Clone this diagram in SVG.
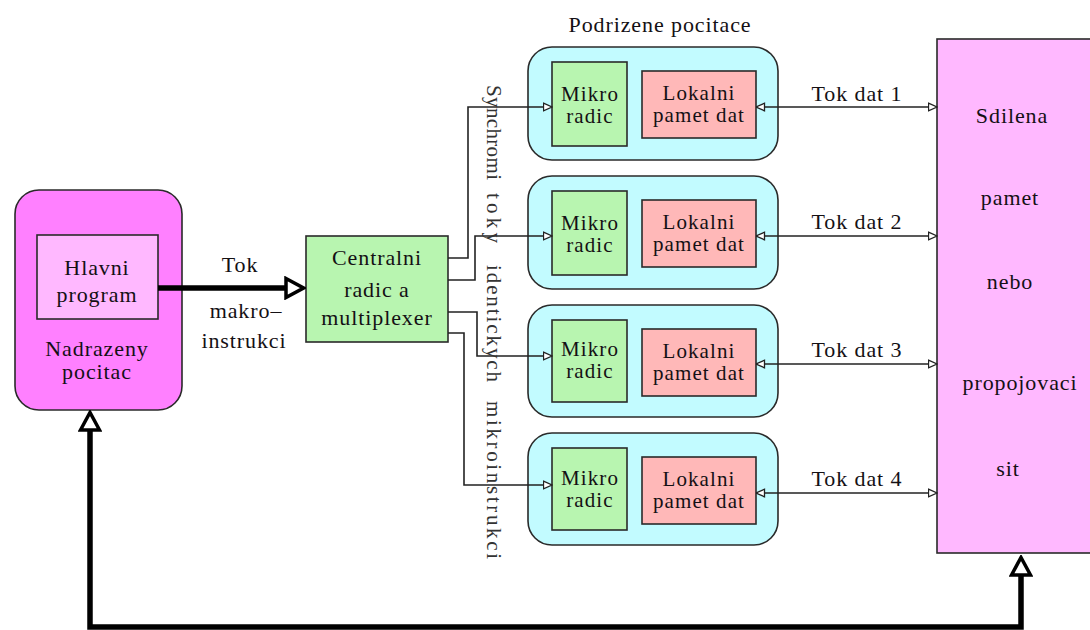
<svg xmlns="http://www.w3.org/2000/svg" width="1090" height="630" viewBox="0 0 1090 630">
  <style>
    text { font-family: "Liberation Serif", "Times New Roman", serif; font-size: 22px; letter-spacing: 0.9px; fill: #141014; text-anchor: middle; }
    .sm { font-size: 21px; letter-spacing: 1.1px; }
    .vt { font-size: 21px; letter-spacing: 0; text-anchor: start; fill: #333; }
    .box { stroke: #2a2a2a; stroke-width: 1.6; }
    .host { fill: #ff80ff; }
    .prog { fill: #ffb8ff; }
    .ctrl { fill: #b8f5b0; }
    .node { fill: #c2fbff; }
    .mem { fill: #ffb8b8; }
    .shared { fill: #ffb8ff; }
    .thin { fill: none; stroke: #222; stroke-width: 1.6; }
    .thick { fill: none; stroke: #000; stroke-width: 5.5; }
  </style>
  <defs>
    <!-- small open arrowhead for control and data lines -->
    <marker id="tip" viewBox="0 0 10 10" refX="9.5" refY="5" markerWidth="10" markerHeight="10" markerUnits="userSpaceOnUse" orient="auto-start-reverse">
      <path d="M1,1.2 L9.5,5 L1,8.8 z" fill="#fff" stroke="#222" stroke-width="1.3"/>
    </marker>
    <!-- large open arrowhead for the thick flows; reference point at its base -->
    <marker id="big" viewBox="0 0 22 24" refX="2" refY="12" markerWidth="22" markerHeight="24" markerUnits="userSpaceOnUse" orient="auto-start-reverse">
      <path d="M2,2.5 L19.5,12 L2,21.5 z" fill="#fff" stroke="#000" stroke-width="3.5" stroke-linejoin="miter"/>
    </marker>
  </defs>

  <rect width="1090" height="630" fill="#fff"/>

  <!-- master computer -->
  <g id="host">
    <rect class="box host" x="15" y="190" width="167" height="220" rx="24"/>
    <rect class="box prog" x="37" y="235" width="121" height="84"/>
    <text x="97" y="275">Hlavni</text>
    <text x="97" y="302">program</text>
    <text x="97" y="356">Nadrazeny</text>
    <text x="97" y="379">pocitac</text>
  </g>

  <!-- central controller -->
  <g id="controller">
    <rect class="box ctrl" x="306" y="236" width="142" height="106"/>
    <text x="377" y="265">Centralni</text>
    <text x="377" y="297">radic a</text>
    <text x="377" y="325">multiplexer</text>
  </g>

  <text x="660" y="32">Podrizene pocitace</text>

  <!-- slave computers -->
  <g id="slave1">
    <rect class="box node" x="528" y="47" width="250" height="113" rx="24"/>
    <rect class="box ctrl" x="552" y="62" width="75" height="84"/>
    <text class="sm" x="590" y="101">Mikro</text>
    <text class="sm" x="590" y="123">radic</text>
    <rect class="box mem" x="642" y="71" width="114" height="67"/>
    <text class="sm" x="699" y="100">Lokalni</text>
    <text class="sm" x="699" y="122">pamet dat</text>
  </g>
  <g id="slave2">
    <rect class="box node" x="528" y="176" width="250" height="113" rx="24"/>
    <rect class="box ctrl" x="552" y="191" width="75" height="84"/>
    <text class="sm" x="590" y="230">Mikro</text>
    <text class="sm" x="590" y="252">radic</text>
    <rect class="box mem" x="642" y="200" width="114" height="67"/>
    <text class="sm" x="699" y="229">Lokalni</text>
    <text class="sm" x="699" y="251">pamet dat</text>
  </g>
  <g id="slave3">
    <rect class="box node" x="528" y="305" width="250" height="112" rx="24"/>
    <rect class="box ctrl" x="552" y="320" width="75" height="82"/>
    <text class="sm" x="590" y="356">Mikro</text>
    <text class="sm" x="590" y="378">radic</text>
    <rect class="box mem" x="642" y="329" width="114" height="67"/>
    <text class="sm" x="699" y="358">Lokalni</text>
    <text class="sm" x="699" y="380">pamet dat</text>
  </g>
  <g id="slave4">
    <rect class="box node" x="528" y="433" width="250" height="112" rx="24"/>
    <rect class="box ctrl" x="552" y="448" width="75" height="82"/>
    <text class="sm" x="590" y="485">Mikro</text>
    <text class="sm" x="590" y="507">radic</text>
    <rect class="box mem" x="642" y="457" width="114" height="67"/>
    <text class="sm" x="699" y="486">Lokalni</text>
    <text class="sm" x="699" y="508">pamet dat</text>
  </g>

  <!-- shared memory / interconnect -->
  <g id="shared">
    <rect class="box shared" x="937" y="39" width="160" height="514"/>
    <text x="1012" y="123">Sdilena</text>
    <text x="1010" y="205">pamet</text>
    <text x="1010" y="289">nebo</text>
    <text x="1020" y="390">propojovaci</text>
    <text x="1008" y="476">sit</text>
  </g>

  <!-- connectors -->
  <g id="connectors">
    <path class="thick" d="M158,288 H286" marker-end="url(#big)"/>
    <path class="thick" d="M1021,575 V627 H90 V430" marker-start="url(#big)" marker-end="url(#big)"/>

    <path class="thin" d="M448,258 H468 V107 H552" marker-end="url(#tip)"/>
    <path class="thin" d="M448,280 H475 V236 H552" marker-end="url(#tip)"/>
    <path class="thin" d="M448,312 H477 V356 H552" marker-end="url(#tip)"/>
    <path class="thin" d="M448,333 H464 V485 H552" marker-end="url(#tip)"/>

    <path class="thin" d="M756,107 H937" marker-start="url(#tip)" marker-end="url(#tip)"/>
    <path class="thin" d="M756,236 H937" marker-start="url(#tip)" marker-end="url(#tip)"/>
    <path class="thin" d="M756,364 H937" marker-start="url(#tip)" marker-end="url(#tip)"/>
    <path class="thin" d="M756,493 H937" marker-start="url(#tip)" marker-end="url(#tip)"/>
  </g>

  <!-- connector labels -->
  <text x="240" y="272">Tok</text>
  <text x="246" y="318">makro–</text>
  <text x="244" y="348">instrukci</text>
  <text x="857" y="101">Tok dat 1</text>
  <text x="857" y="229">Tok dat 2</text>
  <text x="857" y="357">Tok dat 3</text>
  <text x="857" y="486">Tok dat 4</text>

  <text class="vt" transform="translate(487,85) rotate(90)">
    <tspan x="0" textLength="95" lengthAdjust="spacing">Synchromi</tspan>
    <tspan x="108" textLength="50" lengthAdjust="spacing">toky</tspan>
    <tspan x="180" textLength="117" lengthAdjust="spacing">identickych</tspan>
    <tspan x="316" textLength="158" lengthAdjust="spacing">mikroinstrukci</tspan>
  </text>
</svg>
